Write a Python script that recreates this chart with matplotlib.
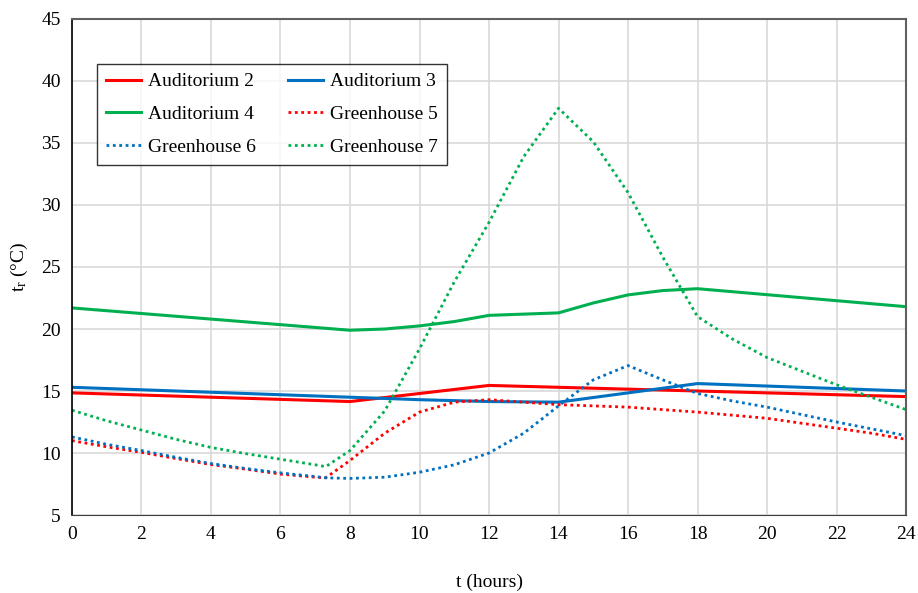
import matplotlib
matplotlib.use("Agg")
import matplotlib.pyplot as plt

plt.rcParams["font.family"] = ["Liberation Serif", "DejaVu Serif"]
plt.rcParams["mathtext.fontset"] = "custom"
plt.rcParams["mathtext.rm"] = "Liberation Serif"
plt.rcParams["mathtext.it"] = "Liberation Serif"

# auditoriums: hourly points where the line bends
aud2_t = [0, 8, 12, 24]
aud2 = [14.85, 14.15, 15.45, 14.55]

aud3_t = [0, 8, 10, 12, 14, 18, 24]
aud3 = [15.3, 14.5, 14.3, 14.15, 14.1, 15.6, 15.0]

aud4_t = [0, 8, 9, 10, 11, 12, 13, 14, 15, 16, 17, 18, 24]
aud4 = [21.7, 19.9, 20.0, 20.25, 20.6, 21.1, 21.2, 21.3, 22.1, 22.75, 23.1, 23.25, 21.8]

# greenhouses
gh_t = [0, 1, 2, 3, 4, 5, 6, 7, 7.3, 8, 9, 10, 11, 12, 13, 14, 15, 16,
        17, 18, 19, 20, 21, 22, 23, 24]
gh5 = [11.0, 10.5, 10.05, 9.55, 9.07, 8.7, 8.3, 8.05, 8.0, 9.4, 11.6, 13.3,
       14.1, 14.3, 14.1, 13.9, 13.8, 13.7, 13.5, 13.3, 13.05, 12.8, 12.4,
       12.0, 11.6, 11.1]
gh6 = [11.3, 10.7, 10.2, 9.65, 9.15, 8.75, 8.4, 8.1, 8.0, 7.95, 8.05, 8.45,
       9.05, 10.0, 11.6, 13.8, 15.9, 17.05, 15.9, 14.8, 14.2, 13.7, 13.1,
       12.5, 11.95, 11.4]
gh7 = [13.45, 12.6, 11.85, 11.1, 10.45, 9.95, 9.5, 9.05, 8.9, 10.2, 13.4,
       18.4, 23.8, 28.6, 33.9, 37.8, 35.1, 31.0, 25.8, 21.0, 19.2, 17.7,
       16.6, 15.5, 14.5, 13.5]

RED = "#ff0000"
BLUE = "#0070c0"
GREEN = "#00b050"
DOT = (0, (1, 1.3))

fig = plt.figure(figsize=(9.18, 5.93), dpi=100)
ax = fig.add_axes([0.0784, 0.1315, 0.9086, 0.8365])

h_a2, = ax.plot(aud2_t, aud2, color=RED, lw=2.2, label="Auditorium 2")
h_a3, = ax.plot(aud3_t, aud3, color=BLUE, lw=2.2, label="Auditorium 3")
h_a4, = ax.plot(aud4_t, aud4, color=GREEN, lw=2.2, label="Auditorium 4")
h_g5, = ax.plot(gh_t, gh5, color=RED, lw=2.0, ls=DOT, label="Greenhouse 5")
h_g6, = ax.plot(gh_t, gh6, color=BLUE, lw=2.0, ls=DOT, label="Greenhouse 6")
h_g7, = ax.plot(gh_t, gh7, color=GREEN, lw=2.0, ls=DOT, label="Greenhouse 7")

ax.set_xlim(0, 24)
ax.set_ylim(5, 45)
ax.set_xticks(range(0, 25, 2))
ax.set_yticks(range(5, 46, 5))
ax.grid(True, color="#d9d9d9", lw=1.2)
ax.set_axisbelow(True)
ax.tick_params(length=0, labelsize=14, pad=8)

for side in ("top", "right"):
    ax.spines[side].set_color("#606060")
    ax.spines[side].set_linewidth(1.5)
ax.spines["left"].set_color("black")
ax.spines["bottom"].set_color("#404040")
ax.spines["left"].set_linewidth(1.2)

ax.set_xlabel("t (hours)", fontsize=14, labelpad=22)
ax.set_ylabel(r"$\mathregular{t_r}$ (°C)", fontsize=14, labelpad=8)

leg = ax.legend(handles=[h_a2, h_a4, h_g6, h_a3, h_g5, h_g7], ncol=2,
                loc="upper left", bbox_to_anchor=(0.030, 0.909),
                borderaxespad=0, fontsize=14, fancybox=False,
                handlelength=1.8, handletextpad=0.35, columnspacing=1.7,
                labelspacing=0.78, borderpad=0.45)
leg.get_frame().set_edgecolor("black")
leg.get_frame().set_linewidth(1.0)

fig.savefig("out.png", dpi=100)
